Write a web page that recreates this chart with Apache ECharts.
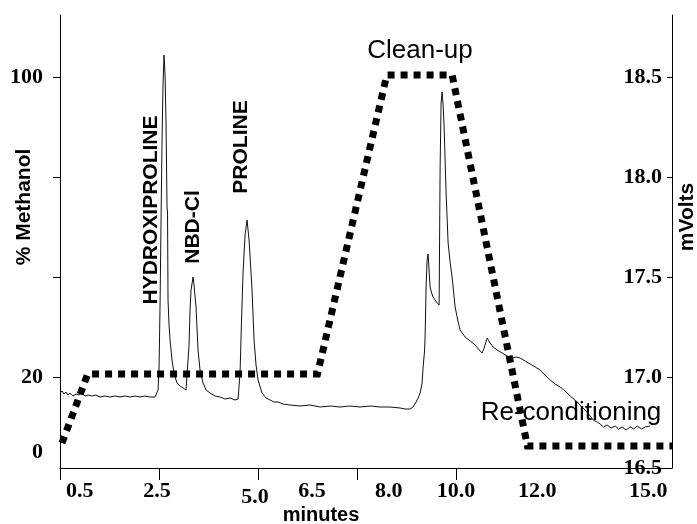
<!DOCTYPE html>
<html lang="en">
<head>
<meta charset="UTF-8">
<title>HPLC hydroxyproline</title>
<script src="https://cdn.jsdelivr.net/npm/echarts@6/dist/echarts.min.js"></script>
<style>
  html, body { margin: 0; padding: 0; background: #fff; }
  #main { width: 697px; height: 524px; }
</style>
</head>
<body>
<div id="main"></div>
<script type="text/javascript">
// detector trace (minutes / mVolts)
var traceTime = [0, 0.051, 0.101, 0.152, 0.202, 0.253, 0.328, 0.404, 0.480, 0.556, 0.631, 0.707, 0.808, 0.909, 1.010, 1.136, 1.263, 1.389, 1.515, 1.641, 1.768, 1.894, 2.020, 2.146, 2.273, 2.399, 2.449,
  2.475, 2.500, 2.525, 2.551, 2.576, 2.601, 2.626, 2.652, 2.677, 2.702, 2.715, 2.727, 2.753, 2.778, 2.828, 2.854, 2.904, 2.955, 3.030, 3.106, 3.182, 3.232,
  3.258, 3.283, 3.308, 3.359, 3.384, 3.434, 3.485, 3.535, 3.611, 3.687, 3.788, 3.914, 4.040, 4.167, 4.293, 4.419, 4.495,
  4.545, 4.583, 4.621, 4.672, 4.722, 4.773, 4.811, 4.848, 4.899, 4.949, 5.000, 5.101, 5.202, 5.303, 5.404, 5.505,
  5.631, 5.808, 6.061, 6.313, 6.566, 6.818, 7.071, 7.323, 7.576, 7.828, 8.081, 8.333, 8.586, 8.712, 8.838,
  8.914, 8.990, 9.040, 9.091, 9.141, 9.167, 9.205, 9.217, 9.242, 9.268, 9.293, 9.318, 9.343, 9.381, 9.419, 9.470, 9.520, 9.571,
  9.596, 9.621, 9.646, 9.672, 9.697, 9.747, 9.798, 9.848, 9.899, 9.975, 10.051, 10.101, 10.227, 10.354, 10.480, 10.606, 10.657,
  10.707, 10.783, 10.859, 10.934, 11.035, 11.162, 11.288, 11.414, 11.515, 11.616, 11.742, 11.869, 11.995, 12.121, 12.247, 12.374,
  12.500, 12.626, 12.753, 12.879, 13.056, 13.182, 13.308, 13.460, 13.560, 13.636, 13.720, 13.813, 13.910, 14.015, 14.100, 14.192, 14.290, 14.394, 14.480, 14.571, 14.680, 14.773, 14.899];
var traceMv = [16.920, 16.930, 16.915, 16.925, 16.910, 16.920, 16.905, 16.915, 16.910, 16.920, 16.905, 16.910, 16.905, 16.910, 16.900, 16.905, 16.900, 16.905, 16.900, 16.905, 16.900, 16.905, 16.900, 16.905, 16.900, 16.900, 16.905,
  16.935, 17.035, 17.350, 17.785, 18.185, 18.460, 18.610, 18.510, 18.270, 17.850, 17.820, 17.385, 17.260, 17.185, 17.085, 17.050, 17.000, 16.970, 16.955, 16.945, 16.935, 16.935,
  17.160, 17.335, 17.435, 17.500, 17.460, 17.350, 17.135, 17.035, 16.970, 16.935, 16.920, 16.905, 16.900, 16.890, 16.895, 16.885, 16.890,
  17.020, 17.285, 17.520, 17.710, 17.785, 17.685, 17.560, 17.435, 17.185, 17.060, 16.985, 16.920, 16.895, 16.885, 16.875, 16.875,
  16.865, 16.860, 16.855, 16.860, 16.850, 16.855, 16.850, 16.855, 16.850, 16.855, 16.850, 16.850, 16.845, 16.840, 16.840,
  16.850, 16.875, 16.895, 16.920, 16.970, 17.050, 17.135, 17.200, 17.450, 17.585, 17.615, 17.620, 17.450, 17.420, 17.400, 17.385, 17.370, 17.360,
  18.050, 18.370, 18.425, 18.360, 18.250, 17.920, 17.670, 17.575, 17.500, 17.350, 17.275, 17.235, 17.200, 17.180, 17.160, 17.130, 17.120,
  17.145, 17.195, 17.170, 17.150, 17.135, 17.120, 17.105, 17.095, 17.100, 17.095, 17.080, 17.065, 17.050, 17.035, 17.010, 16.985,
  16.965, 16.950, 16.930, 16.905, 16.875, 16.850, 16.825, 16.785, 16.775, 16.765, 16.750, 16.760, 16.745, 16.755, 16.740, 16.750, 16.735, 16.750, 16.740, 16.755, 16.740, 16.750, 16.755];

// methanol gradient (minutes / %)
var gradTime = [0.05, 0.7, 6.5, 8.25, 9.9, 11.8, 15.45];
var gradMethanol = [2.4, 20.8, 20.8, 100.5, 100.5, 1.6, 1.6];

// axis ticks and labels
var xTickAt = [0, 2.5, 5, 7.5, 10];
var xLabelAt = [0.5, 2.45, 4.92, 6.36, 8.3, 10.0, 12.05, 14.85];
var xLabelText = ['0.5', '2.5', '5.0', '6.5', '8.0', '10.0', '12.0', '15.0'];
var leftTickAt = [20, 46.67, 73.33, 100];
var leftLabelAt = [0, 20, 100];
var rightTickAt = [17, 17.5, 18, 18.5];
var rightLabelAt = [16.545, 17, 17.5, 18, 18.5];

var serifLabel = { color: '#000', fontFamily: 'Liberation Serif', fontWeight: 'bold', fontSize: 22 };
var sansBold = 'bold 21px "Liberation Sans"';

var traceData = traceTime.map(function (t, i) { return [t, traceMv[i]]; });
var gradData = gradTime.map(function (t, i) { return [t, gradMethanol[i]]; });

function vText(txt, x, y, font) {
  return {
    type: 'text', x: x, y: y, rotation: Math.PI / 2,
    style: { text: txt, font: font || sansBold, fill: '#000', textAlign: 'center', textVerticalAlign: 'middle' }
  };
}
function hText(txt, x, y, font) {
  return {
    type: 'text', x: x, y: y,
    style: { text: txt, font: font, fill: '#000', textAlign: 'center', textVerticalAlign: 'middle' }
  };
}

var myChart = echarts.init(document.getElementById('main'));
var option = {
  animation: false,
  backgroundColor: '#fff',
  grid: { left: 60, right: 25, top: 15, bottom: 56 },
  xAxis: {
    type: 'value', min: 0, max: 15.45,
    axisLine: { onZero: false, lineStyle: { color: '#000', width: 1 } },
    axisTick: { customValues: xTickAt, length: 12, lineStyle: { color: '#000' } },
    axisLabel: Object.assign({
      customValues: xLabelAt, margin: 12, hideOverlap: false,
      formatter: function (v) {
        var i = xLabelAt.indexOf(v);
        if (i < 0) return '';
        return xLabelText[i] === '5.0' ? '{low|5.0}' : xLabelText[i];
      },
      rich: { low: { fontFamily: 'Liberation Serif', fontWeight: 'bold', fontSize: 22, color: '#000', padding: [6, 0, 0, 0] } }
    }, serifLabel),
    splitLine: { show: false }
  },
  yAxis: [{
    type: 'value', min: -4.267, max: 116.53, position: 'left',
    axisLine: { show: true, lineStyle: { color: '#000', width: 1 } },
    axisTick: { show: true, customValues: leftTickAt, length: 7, lineStyle: { color: '#000' } },
    axisLabel: Object.assign({ customValues: leftLabelAt, margin: 17 }, serifLabel),
    splitLine: { show: false }
  }, {
    type: 'value', min: 16.545, max: 18.81, position: 'right',
    axisLine: { show: true, lineStyle: { color: '#000', width: 1 } },
    axisTick: { show: true, inside: true, customValues: rightTickAt, length: 5, lineStyle: { color: '#000' } },
    axisLabel: Object.assign({
      customValues: rightLabelAt, inside: true, margin: 10,
      formatter: function (v) { return v.toFixed(1); }
    }, serifLabel),
    splitLine: { show: false }
  }],
  series: [{
    name: 'Trace', type: 'line', yAxisIndex: 1, data: traceData,
    symbol: 'none', lineStyle: { color: '#111', width: 1 }, z: 2
  }, {
    name: '% Methanol', type: 'line', yAxisIndex: 0, data: gradData,
    symbol: 'none', lineStyle: { color: '#000', width: 7, type: [7, 6], cap: 'butt', join: 'miter' }, z: 3
  }],
  graphic: [
    vText('% Methanol', 24, 207),
    vText('mVolts', 687, 217),
    hText('minutes', 321, 515, 'bold 20px "Liberation Sans"'),
    vText('HYDROXIPROLINE', 151.5, 210),
    vText('NBD-Cl', 193, 227),
    vText('PROLINE', 241, 147),
    hText('Clean-up', 420, 51, '26px "Liberation Sans"'),
    hText('Re-conditioning', 571, 413, '26px "Liberation Sans"')
  ]
};
myChart.setOption(option);
</script>
</body>
</html>
